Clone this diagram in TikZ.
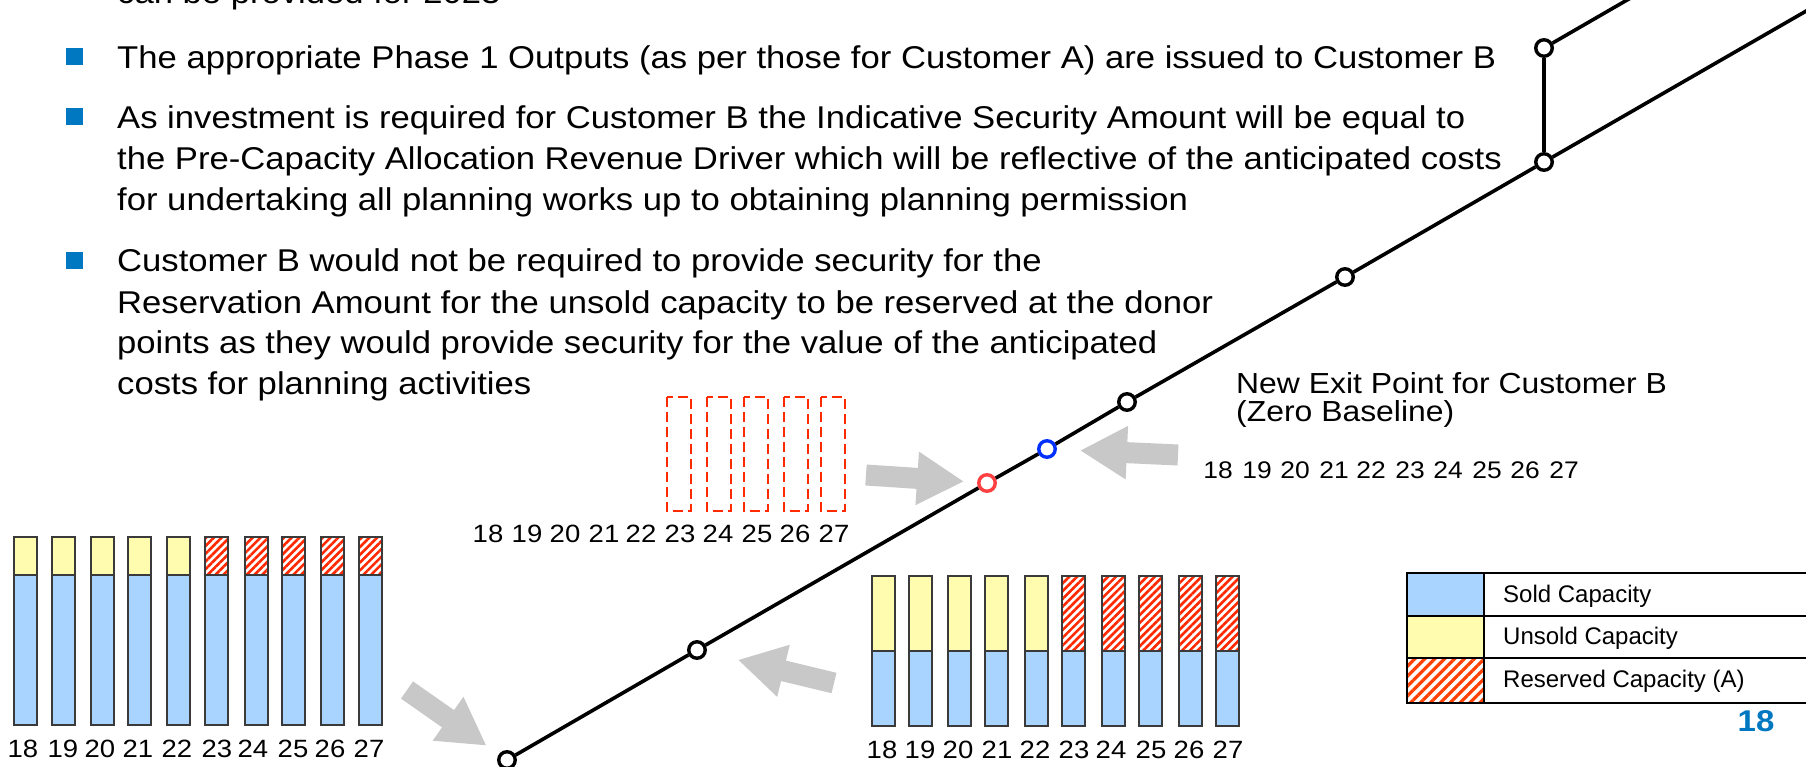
\documentclass[tikz,border=0pt]{standalone}
\usepackage{fontspec}
\setmainfont{Liberation Sans}
\newfontfamily\widefont[FakeStretch=1.1]{Liberation Sans}
\newfontfamily\numfont[FakeStretch=1.1]{Liberation Sans}
\usetikzlibrary{arrows.meta,patterns.meta}
\definecolor{bulblue}{RGB}{0,120,193}
\definecolor{soldblue}{RGB}{168,212,255}
\definecolor{unsoldy}{RGB}{255,252,176}
\definecolor{hatchred}{RGB}{255,40,0}
\definecolor{hatchor}{RGB}{255,64,0}
\definecolor{barline}{RGB}{58,58,58}
\definecolor{arrgray}{RGB}{200,200,200}
\definecolor{ptred}{RGB}{255,64,64}
\definecolor{ptblue}{RGB}{0,48,255}
\definecolor{dashred}{RGB}{255,42,0}
\tikzset{
  txt/.style={font=\widefont\fontsize{31.5}{36}\selectfont, anchor=base west, inner sep=0pt},
  exittxt/.style={font=\widefont\fontsize{29}{30}\selectfont, anchor=base west, inner sep=0pt},
  num/.style={font=\numfont\fontsize{25}{28}\selectfont, anchor=base, inner sep=0pt},
  lgd/.style={font=\fontsize{24}{28}\selectfont, anchor=base west, inner sep=0pt},
  pt/.style={circle, draw=black, line width=3.4pt, fill=white, minimum size=16.5pt, inner sep=0pt},
  mainline/.style={draw=black, line width=3.6pt},
  garrow/.style={draw=arrgray, line width=21pt, -{Triangle[length=47pt,width=50pt]}},
  soldbar/.style={fill=soldblue, draw=barline, line width=1.5pt},
  unsoldbar/.style={fill=unsoldy, draw=barline, line width=1.5pt},
  resbar/.style={fill=white, pattern={Lines[angle=45,distance=5.5pt,line width=2.6pt]}, pattern color=hatchred, draw=barline, line width=1.5pt},
  dashbox/.style={draw=dashred, line width=2pt, dash pattern=on 10pt off 5pt},
  lgline/.style={draw=black, line width=2.5pt},
}
\begin{document}
\begin{tikzpicture}[x=1pt,y=-1pt]
\useasboundingbox (0,0) rectangle (1806,767);
\fill[white] (0,0) rectangle (1806,767);

% ---------- bullet text ----------
\node[txt] (t0) at (117,4) {can be provided for 2023};
\fill[bulblue] (66,48) rectangle (83,65);
\node[txt] (t1) at (117,69) {The appropriate Phase 1 Outputs (as per those for Customer A) are issued to Customer B};
\fill[bulblue] (66,108) rectangle (83,125);
\node[txt] (t2a) at (117,129) {As investment is required for Customer B the Indicative Security Amount will be equal to};
\node[txt] (t2b) at (117,170) {the Pre-Capacity Allocation Revenue Driver which will be reflective of the anticipated costs};
\node[txt] (t2c) at (117,211) {for undertaking all planning works up to obtaining planning permission};
\fill[bulblue] (66,252) rectangle (83,269);
\node[txt] (t3a) at (117,272) {Customer B would not be required to provide security for the};
\node[txt] (t3b) at (117,313) {Reservation Amount for the unsold capacity to be reserved at the donor};
\node[txt] (t3c) at (117,353) {points as they would provide security for the value of the anticipated};
\node[txt] (t3d) at (117,394) {costs for planning activities};

% ---------- network line ----------
\node[pt] (c0) at (507,760) {};
\node[pt] (c1) at (697,650) {};
\node[pt, draw=ptred] (cr) at (987,483) {};
\node[pt, draw=ptblue] (cb) at (1047,449) {};
\node[pt] (c4) at (1127,402) {};
\node[pt] (c5) at (1345,277) {};
\node[pt] (c6) at (1544,162) {};
\node[pt] (c7) at (1544,48) {};
\coordinate (eA) at (1834,-5);
\coordinate (eB) at (1634,-4);
\draw[mainline] (c0) -- (c1);
\draw[mainline] (c1) -- (cr);
\draw[mainline] (cr) -- (cb);
\draw[mainline] (cb) -- (c4);
\draw[mainline] (c4) -- (c5);
\draw[mainline] (c5) -- (c6);
\draw[mainline] (c6) -- (eA);
\draw[mainline] (c6) -- (c7);
\draw[mainline] (c7) -- (eB);

% ---------- gray arrows ----------
\coordinate (a1) at (407,690);
\coordinate (a2) at (866,475);
\coordinate (a3) at (834,683);
\coordinate (a4) at (1178,455);
\draw[garrow, shorten >=15pt] (a1) -- (c0);
\draw[garrow, shorten >=13pt] (a2) -- (cr);
\draw[garrow, shorten >=32pt] (a3) -- (c1);
\draw[garrow, shorten >=23pt] (a4) -- (cb);

% ---------- left chart ----------
\foreach \x in {14,52,91,128,167} {
  \draw[unsoldbar] (\x,537) rectangle (\x+23,575);
  \draw[soldbar] (\x,575) rectangle (\x+23,725);
}
\foreach \x in {205,245,282,321,359} {
  \draw[resbar] (\x,537) rectangle (\x+23,575);
  \draw[soldbar] (\x,575) rectangle (\x+23,725);
}
\foreach \x/\t in {23/18,63/19,100/20,138/21,177/22,217/23,253/24,293/25,330/26,369/27}
  \node[num] (L\t) at (\x,757) {\t};

% ---------- middle chart ----------
\foreach \x in {872,909,948,985,1025} {
  \draw[unsoldbar] (\x,576) rectangle (\x+23,651);
  \draw[soldbar] (\x,651) rectangle (\x+23,726);
}
\foreach \x in {1062,1102,1139,1179,1216} {
  \draw[resbar] (\x,576) rectangle (\x+23,651);
  \draw[soldbar] (\x,651) rectangle (\x+23,726);
}
\foreach \x/\t in {882/18,920/19,958/20,997/21,1035/22,1074/23,1111/24,1151/25,1189/26,1228/27}
  \node[num] (M\t) at (\x,758) {\t};

% ---------- dashed chart ----------
\foreach \x in {667,707,744,784,821}
  \draw[dashbox] (\x,397) rectangle (\x+24,511);
\foreach \x/\t in {488/18,527/19,565/20,604/21,641/22,680/23,718/24,757/25,795/26,834/27}
  \node[num] (D\t) at (\x,542) {\t};

% ---------- new exit point ----------
\node[exittxt] (ne1) at (1236,393) {New Exit Point for Customer B};
\node[exittxt] (ne2) at (1236,421) {(Zero Baseline)};
\foreach \x/\t in {1218/18,1257/19,1295/20,1334/21,1371/22,1410/23,1448/24,1487/25,1525/26,1564/27}
  \node[num, font=\numfont\fontsize{24}{28}\selectfont] (R\t) at (\x,478) {\t};

% ---------- legend ----------
\fill[soldblue] (1407,573) rectangle (1484,616);
\fill[unsoldy] (1407,616) rectangle (1484,658);
\fill[white, pattern={Lines[angle=45,distance=7pt,line width=3.2pt]}, pattern color=hatchor] (1407,658) rectangle (1484,703);
\draw[lgline] (1407,573) rectangle (1830,703);
\draw[lgline] (1407,616) -- (1830,616);
\draw[lgline] (1407,658) -- (1830,658);
\draw[lgline] (1484,573) -- (1484,703);
\node[lgd] (lg1) at (1503,602) {Sold Capacity};
\node[lgd] (lg2) at (1503,644) {Unsold Capacity};
\node[lgd] (lg3) at (1503,687) {Reserved Capacity (A)};

% ---------- page number ----------
\node[font=\widefont\fontsize{30}{30}\selectfont\bfseries, text=bulblue, inner sep=0pt] (pg) at (1756,721) {18};
\end{tikzpicture}
\end{document}
